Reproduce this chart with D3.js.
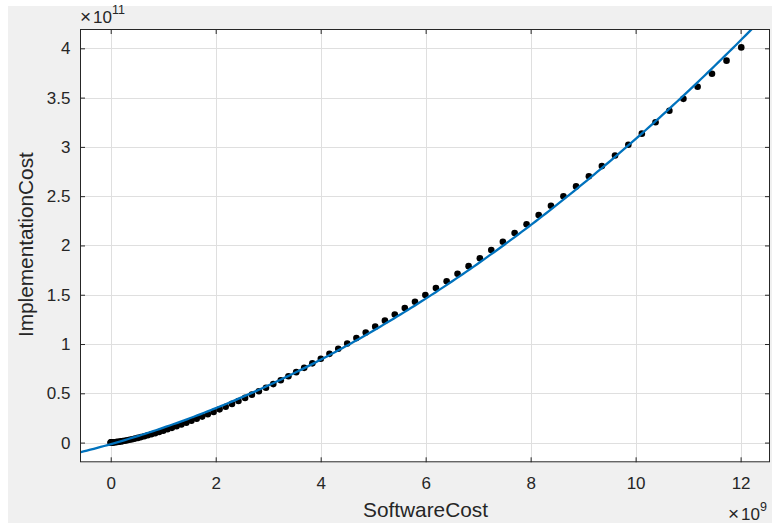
<!DOCTYPE html>
<html>
<head>
<meta charset="utf-8">
<script src="https://cdn.jsdelivr.net/npm/d3@7"></script>
<style>
  html, body { margin: 0; padding: 0; background: #ffffff; }
  svg { display: block; }
  text { font-family: "Liberation Sans", Arial, Helvetica, sans-serif; fill: #262626; }
</style>
</head>
<body>
<script>
// ---- data (SoftwareCost in units of 1e9, ImplementationCost in units of 1e11) ----
const softwareCost = [
  0, 0.0016, 0.0064, 0.0144, 0.0256, 0.04, 0.0576, 0.0784, 0.1024, 0.1296,
  0.16, 0.1936, 0.2304, 0.2704, 0.3136, 0.36, 0.4096, 0.4624, 0.5184, 0.5776,
  0.64, 0.7056, 0.7744, 0.8464, 0.9216, 1.0, 1.0816, 1.1664, 1.2544, 1.3456,
  1.44, 1.5376, 1.6384, 1.7424, 1.8496, 1.96, 2.0736, 2.1904, 2.3104, 2.4336,
  2.56, 2.6896, 2.8224, 2.9584, 3.0976, 3.24, 3.3856, 3.5344, 3.6864, 3.8416,
  4.0028, 4.1673, 4.3351, 4.5063, 4.6807, 4.8585, 5.0396, 5.2240, 5.4117, 5.6027,
  5.7970, 5.9947, 6.1956, 6.3999, 6.6075, 6.8184, 7.0326, 7.2501, 7.4709, 7.6951,
  7.9225, 8.1533, 8.3874, 8.6248, 8.8655, 9.1095, 9.3569, 9.6075, 9.8615, 10.1188,
  10.3794, 10.6433, 10.9105, 11.1810, 11.4548, 11.7320, 12.0125
];
const implementationCost = [
  0, 0.0000, 0.0001, 0.0003, 0.0007, 0.0013, 0.0022, 0.0033, 0.0048, 0.0068,
  0.0091, 0.0119, 0.0152, 0.0191, 0.0235, 0.0285, 0.0342, 0.0406, 0.0477, 0.0556,
  0.0642, 0.0737, 0.0840, 0.0953, 0.1074, 0.1205, 0.1346, 0.1497, 0.1659, 0.1831,
  0.2015, 0.2210, 0.2417, 0.2636, 0.2868, 0.3112, 0.3370, 0.3640, 0.3925, 0.4223,
  0.4535, 0.4863, 0.5204, 0.5561, 0.5934, 0.6322, 0.6727, 0.7147, 0.7584, 0.8038,
  0.8510, 0.9005, 0.9518, 1.0050, 1.0600, 1.1170, 1.1760, 1.2370, 1.3000, 1.3650,
  1.4280, 1.4974, 1.5691, 1.6360, 1.7120, 1.7902, 1.8706, 1.9532, 2.0383, 2.1258,
  2.2156, 2.3078, 2.4022, 2.4994, 2.5989, 2.7009, 2.8053, 2.9124, 3.0222, 3.1345,
  3.2496, 3.3672, 3.4875, 3.6107, 3.7415, 3.8751, 4.0094
];
// quadratic fit y = c0 + c1*x + c2*x^2
const fitCoefficients = [-0.016, 0.1506, 0.0159];

const xTicks = [0, 2, 4, 6, 8, 10, 12];
const yTicks = [0, 0.5, 1, 1.5, 2, 2.5, 3, 3.5, 4];
const yTickLabels = ["0", "0.5", "1", "1.5", "2", "2.5", "3", "3.5", "4"];
const xLabel = "SoftwareCost";
const yLabel = "ImplementationCost";
const xExponent = "9";
const yExponent = "11";

// ---- layout ----
const W = 772, H = 525;
const L = 80, R = 770, T = 29, B = 462.3;
const tickFont = 17, labelFont = 20.8;

const svg = d3.select("body").append("svg").attr("width", W).attr("height", H);
svg.append("rect").attr("x", 8).attr("y", 6).attr("width", W - 8).attr("height", 517).attr("fill", "#f0f0f0");
svg.append("rect").attr("x", L).attr("y", T).attr("width", R - L).attr("height", B - T).attr("fill", "#ffffff");

const x = d3.scaleLinear().domain([-0.585, 12.56]).range([L, R]);
const y = d3.scaleLinear().domain([-0.2, 4.196]).range([B, T]);

// grid
const grid = svg.append("g").attr("stroke", "#dfdfdf").attr("stroke-width", 1).attr("shape-rendering", "crispEdges");
grid.selectAll(".gx").data(xTicks).join("line")
  .attr("x1", d => Math.round(x(d)) + 0.5).attr("x2", d => Math.round(x(d)) + 0.5)
  .attr("y1", T).attr("y2", B);
grid.selectAll(".gy").data(yTicks).join("line")
  .attr("y1", d => Math.round(y(d)) + 0.5).attr("y2", d => Math.round(y(d)) + 0.5)
  .attr("x1", L).attr("x2", R);

// clip
svg.append("clipPath").attr("id", "clip").append("rect")
  .attr("x", L).attr("y", T).attr("width", R - L).attr("height", B - T);

// fitted curve
const xs = d3.range(0, 201).map(i => x.domain()[0] + (x.domain()[1] - x.domain()[0]) * i / 200);
const fitPts = xs.map(v => [v, fitCoefficients[0] + fitCoefficients[1] * v + fitCoefficients[2] * v * v]);
const line = d3.line().x(d => x(d[0])).y(d => y(d[1]));

// data points
const pts = softwareCost.map((v, i) => [v, implementationCost[i]]);
svg.append("g").attr("clip-path", "url(#clip)")
  .selectAll("circle").data(pts).join("circle")
  .attr("cx", d => x(d[0])).attr("cy", d => y(d[1])).attr("r", 3.3).attr("fill", "#000000");

svg.append("path").attr("clip-path", "url(#clip)").datum(fitPts)
  .attr("d", line).attr("fill", "none").attr("stroke", "#0072BD").attr("stroke-width", 2.3);

// axes (ticks inward, on all four sides)
const axisColor = "#262626";
const xAxis = svg.append("g").attr("transform", `translate(0,${B})`)
  .call(d3.axisBottom(x).tickValues(xTicks).tickSize(-5).tickPadding(15).tickFormat(d3.format("d")));
const xAxisTop = svg.append("g").attr("transform", `translate(0,${T})`)
  .call(d3.axisTop(x).tickValues(xTicks).tickSize(-5).tickFormat(""));
const yAxis = svg.append("g").attr("transform", `translate(${L},0)`)
  .call(d3.axisLeft(y).tickValues(yTicks).tickSize(-5).tickPadding(9.5).tickFormat((d, i) => yTickLabels[i]));
const yAxisRight = svg.append("g").attr("transform", `translate(${R},0)`)
  .call(d3.axisRight(y).tickValues(yTicks).tickSize(-5).tickFormat(""));

[xAxis, xAxisTop, yAxis, yAxisRight].forEach(g => {
  g.select(".domain").remove();
  g.selectAll(".tick line").attr("stroke", axisColor);
  g.selectAll(".tick text").attr("font-size", tickFont).attr("fill", axisColor)
    .attr("font-family", '"Liberation Sans", Arial, sans-serif');
});

svg.append("rect").attr("x", L + 0.5).attr("y", T + 0.5).attr("width", R - L - 1).attr("height", B - T - 1)
  .attr("fill", "none").attr("stroke", axisColor).attr("stroke-width", 1);

// labels
svg.append("text").attr("x", (L + R) / 2 + 0.5).attr("y", 517).attr("text-anchor", "middle")
  .attr("font-size", labelFont).text(xLabel);
svg.append("text").attr("transform", `translate(33,${(T + B) / 2 - 1}) rotate(-90)`).attr("text-anchor", "middle")
  .attr("font-size", labelFont).text(yLabel);

// exponent labels
const ey = svg.append("text").attr("x", 80).attr("y", 23).attr("font-size", tickFont);
ey.append("tspan").attr("font-size", 19).text("\u00d7");
ey.append("tspan").attr("dx", 2).text("10");
ey.append("tspan").attr("dy", -9).attr("font-size", 12.5).text(yExponent);

const ex = svg.append("text").attr("x", 728).attr("y", 520).attr("font-size", tickFont);
ex.append("tspan").attr("font-size", 19).text("\u00d7");
ex.append("tspan").attr("dx", 2).text("10");
ex.append("tspan").attr("dy", -9).attr("font-size", 12.5).text(xExponent);
</script>
</body>
</html>
